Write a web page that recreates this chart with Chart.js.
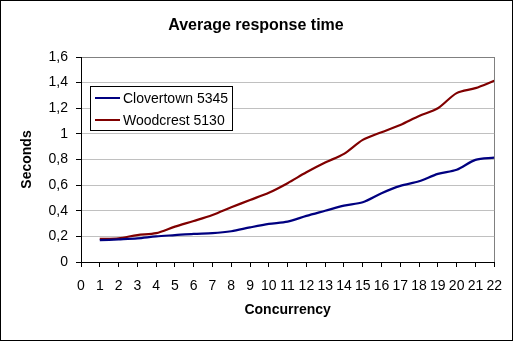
<!DOCTYPE html>
<html>
<head>
<meta charset="utf-8">
<script src="https://cdn.jsdelivr.net/npm/chart.js@4"></script>
<style>
  html, body { margin: 0; padding: 0; background: #fff; overflow: hidden; }
  canvas { display: block; }
</style>
</head>
<body>
<canvas id="chart" width="513" height="341"></canvas>
<script>
// values
const concurrency = [1, 2, 3, 4, 5, 6, 7, 8, 9, 10, 11, 12, 13, 14, 15, 16, 17, 18, 19, 20, 21, 22];
const clovertown = [0.17, 0.177, 0.185, 0.20, 0.21, 0.22, 0.225, 0.24, 0.27, 0.297, 0.315, 0.36, 0.40, 0.44, 0.466, 0.537, 0.594, 0.63, 0.688, 0.72, 0.797, 0.815];
const woodcrest = [0.18, 0.185, 0.21, 0.225, 0.276, 0.32, 0.367, 0.427, 0.484, 0.54, 0.615, 0.70, 0.776, 0.844, 0.953, 1.013, 1.07, 1.14, 1.20, 1.318, 1.357, 1.414];
const seriesNames = ['Clovertown 5345', 'Woodcrest 5130'];
const seriesColors = ['#000080', '#800000'];

const FONT = 'Liberation Sans, Arial, sans-serif';

const toPoints = (ys) => ys.map((y, i) => ({ x: concurrency[i], y }));
const commaNum = (v) => String(Math.round(v * 10) / 10).replace('.', ',');

// frame, title and the boxed legend inside the plot, Excel style
const excelFrame = {
    id: 'excelFrame',
    beforeDraw(chart) {
        const ctx = chart.ctx;
        ctx.save();
        ctx.fillStyle = '#fff';
        ctx.fillRect(0, 0, chart.width, chart.height);
        ctx.restore();
    },
    afterDraw(chart) {
        const ctx = chart.ctx;
        ctx.save();
        // outer border
        ctx.strokeStyle = '#000';
        ctx.lineWidth = 1;
        ctx.strokeRect(0.5, 0.5, chart.width - 1, chart.height - 1);

        // title
        ctx.fillStyle = '#000';
        ctx.font = 'bold 16px ' + FONT;
        ctx.textAlign = 'center';
        ctx.textBaseline = 'middle';
        ctx.fillText('Average response time', 256, 26);

        // legend
        ctx.fillStyle = '#fff';
        ctx.fillRect(90.5, 86.5, 142, 44);
        ctx.strokeRect(90.5, 86.5, 142, 44);
        ctx.font = '14px ' + FONT;
        ctx.textAlign = 'left';
        chart.data.datasets.forEach((ds, i) => {
            const y = 98 + i * 22;
            ctx.strokeStyle = ds.borderColor;
            ctx.lineWidth = 2;
            ctx.beginPath();
            ctx.moveTo(95, y);
            ctx.lineTo(120, y);
            ctx.stroke();
            ctx.fillStyle = '#000';
            ctx.fillText(ds.label, 123, y + 1);
        });
        ctx.restore();
    }
};

new Chart(document.getElementById('chart'), {
    type: 'line',
    data: {
        datasets: [
            { label: seriesNames[0], data: toPoints(clovertown), borderColor: seriesColors[0] },
            { label: seriesNames[1], data: toPoints(woodcrest), borderColor: seriesColors[1] }
        ]
    },
    options: {
        responsive: false,
        animation: false,
        devicePixelRatio: 1,
        layout: { padding: { left: 0, top: 57, right: 17, bottom: 0 } },
        elements: {
            line: { borderWidth: 2.2, tension: 0.3, fill: false },
            point: { radius: 0 }
        },
        plugins: {
            legend: { display: false },
            title: { display: false },
            tooltip: { enabled: false }
        },
        scales: {
            x: {
                type: 'linear',
                min: 0,
                max: 22,
                afterFit: (s) => { s.height = 79; },
                border: { display: true, color: '#000', width: 1 },
                grid: {
                    drawOnChartArea: true,
                    color: (c) => c.tick && c.tick.value === 22 ? '#808080' : 'rgba(0,0,0,0)',
                    tickColor: '#000',
                    tickLength: 5
                },
                ticks: {
                    stepSize: 1,
                    autoSkip: false,
                    maxRotation: 0,
                    padding: 11,
                    color: '#000',
                    font: { family: FONT, size: 14 }
                },
                title: {
                    display: true,
                    text: 'Concurrency',
                    color: '#000',
                    font: { family: FONT, size: 14, weight: 'bold' },
                    padding: { top: 0, bottom: 22 }
                }
            },
            y: {
                min: 0,
                max: 1.6,
                afterFit: (s) => { s.width = 81; },
                border: { display: true, color: '#000', width: 1 },
                grid: {
                    color: (c) => c.tick && c.tick.value >= 1.6 ? '#808080' : '#c0c0c0',
                    tickColor: '#000',
                    tickLength: 5
                },
                ticks: {
                    stepSize: 0.2,
                    padding: 8,
                    color: '#000',
                    font: { family: FONT, size: 14 },
                    callback: (v) => commaNum(v)
                },
                title: {
                    display: true,
                    text: 'Seconds',
                    color: '#000',
                    font: { family: FONT, size: 14, weight: 'bold' },
                    padding: { top: 19, bottom: 0 }
                }
            }
        }
    },
    plugins: [excelFrame]
});
</script>
</body>
</html>
